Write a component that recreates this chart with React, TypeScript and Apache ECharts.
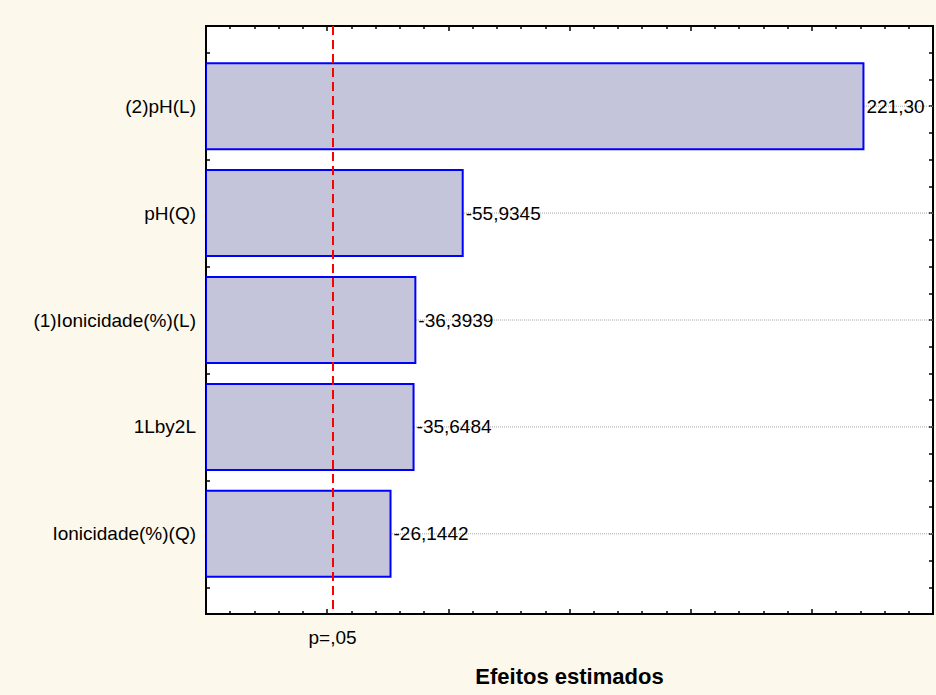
import React, { useEffect, useRef } from 'react';
import * as echarts from 'echarts';

// Pareto chart of effects (Statistica style)
const categories: string[] = ['(2)pH(L)', 'pH(Q)', '(1)Ionicidade(%)(L)', '1Lby2L', 'Ionicidade(%)(Q)'];
const effects: number[] = [221.3, -55.9345, -36.3939, -35.6484, -26.1442];
const effectLabels: string[] = ['221,30', '-55,9345', '-36,3939', '-35,6484', '-26,1442'];
const pCritical = 2.228;
const pLabel = 'p=,05';
const xAxisName = 'Efeitos estimados';

const X_MIN = -50;
const X_MAX = 250;
const X_INTERVAL = 50;
const Y_MIN = -0.75;
const Y_MAX = 4.75;
const Y_INTERVAL = 0.25;

const FONT = '"Liberation Sans", Arial, sans-serif';

export default function App() {
  const ref = useRef<HTMLDivElement>(null);

  useEffect(() => {
    if (!ref.current) return;
    const chart = echarts.init(ref.current, null, { renderer: 'svg' });

    const data = effects.map((v, i) => [i, Math.abs(v), i]);

    const tickStyle = { color: '#000', width: 1.5 };
    const axisLine = { show: true, onZero: false, lineStyle: { color: '#000', width: 2 } };

    const xAxisBase = {
      type: 'value',
      min: X_MIN,
      max: X_MAX,
      interval: X_INTERVAL,
      axisLine,
      axisTick: { show: true, inside: true, length: 5, lineStyle: tickStyle },
      minorTick: { show: true, splitNumber: 5, length: 3, lineStyle: tickStyle },
      axisLabel: { show: false },
      splitLine: { show: false },
      minorSplitLine: { show: false },
    };

    const yAxisBase = {
      type: 'value',
      inverse: true,
      min: Y_MIN,
      max: Y_MAX,
      interval: Y_INTERVAL,
      axisLine,
      axisTick: { show: true, inside: true, length: 4, lineStyle: tickStyle },
      splitLine: { show: false },
    };

    const option: any = {
      animation: false,
      backgroundColor: '#FDF8EC',
      textStyle: { fontFamily: FONT },
      grid: {
        left: 206,
        top: 26,
        width: 727,
        height: 588,
        show: true,
        backgroundColor: '#FFFFFF',
        borderWidth: 2,
        borderColor: '#000000',
        containLabel: false,
      },
      xAxis: [
        {
          ...xAxisBase,
          position: 'bottom',
          name: xAxisName,
          nameLocation: 'middle',
          nameGap: 51,
          nameTextStyle: { fontFamily: FONT, fontSize: 22, fontWeight: 'bold', color: '#000' },
        },
        { ...xAxisBase, position: 'top' },
      ],
      yAxis: [
        {
          ...yAxisBase,
          position: 'left',
          axisLabel: {
            show: true,
            margin: 10,
            fontFamily: FONT,
            fontSize: 19,
            color: '#000',
            formatter: (val: number) => {
              const r = Math.round(val);
              if (Math.abs(val - r) < 1e-6 && r >= 0 && r < categories.length) return categories[r];
              return '';
            },
          },
        },
        { ...yAxisBase, position: 'right', axisLabel: { show: false } },
      ],
      series: [
        {
          type: 'custom',
          xAxisIndex: 0,
          yAxisIndex: 0,
          clip: true,
          encode: { x: 1, y: 0 },
          data,
          renderItem: (params: any, api: any) => {
            const idx = api.value(0);
            const absV = api.value(1);
            const left = api.coord([X_MIN, idx]);
            const right = api.coord([X_MAX, idx]);
            const end = api.coord([absV, idx]);
            const band = api.size([0, 1])[1];
            const h = band * 0.805;
            return {
              type: 'group',
              children: [
                {
                  type: 'line',
                  shape: { x1: left[0], y1: left[1], x2: right[0], y2: right[1] },
                  style: { stroke: '#A8A8A8', lineWidth: 1, lineDash: [1, 1] },
                  z2: 0,
                },
                {
                  type: 'rect',
                  shape: { x: left[0], y: end[1] - h / 2, width: end[0] - left[0], height: h },
                  style: { fill: '#C4C5DB', stroke: '#0000FF', lineWidth: 2 },
                  z2: 1,
                },
                {
                  type: 'text',
                  x: end[0] + 3,
                  y: end[1],
                  style: {
                    text: effectLabels[idx],
                    fontFamily: FONT,
                    fontSize: 19,
                    fill: '#000',
                    textAlign: 'left',
                    textVerticalAlign: 'middle',
                  },
                  z2: 2,
                },
              ],
            };
          },
          markLine: {
            silent: true,
            symbol: ['none', 'none'],
            lineStyle: { color: '#FF0000', type: [9, 5], width: 2 },
            label: {
              show: true,
              position: 'end',
              distance: 14,
              formatter: pLabel,
              fontFamily: FONT,
              fontSize: 19,
              color: '#000',
            },
            data: [{ xAxis: pCritical }],
          },
        },
      ],
    };

    chart.setOption(option);
    return () => chart.dispose();
  }, []);

  return (
    <div
      ref={ref}
      style={{ position: 'fixed', left: 0, top: 0, width: 936, height: 695 }}
    />
  );
}
